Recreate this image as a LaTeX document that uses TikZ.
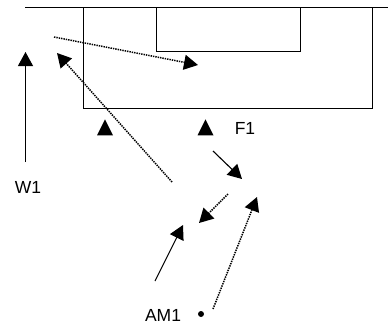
\documentclass[tikz,border=0pt]{standalone}
\usepackage{fontspec}
\setmainfont{Liberation Sans}
\usetikzlibrary{arrows.meta,shapes.geometric}
\begin{document}
\begin{tikzpicture}[x=1pt,y=-1pt,
  pitch/.style={line width=1pt},
  run/.style={line width=1.1pt,-{Triangle[length=14pt,width=15pt]}},
  pass/.style={line width=1.5pt,dash pattern=on 1.4pt off 1pt,-{Triangle[length=14pt,width=15pt]}},
  cone/.style={fill=black,isosceles triangle,isosceles triangle stretches,shape border rotate=90,inner sep=0pt,minimum height=16pt,minimum width=16pt},
  lbl/.style={font=\fontsize{17.5}{19}\selectfont,inner sep=0pt}]
\useasboundingbox (0,0) rectangle (388,325);
% pitch lines
\draw[pitch] (25,7) -- (388,7);
\draw[pitch] (83,7) rectangle (372,108);
\draw[pitch] (156,7) rectangle (300,51);
% cones
\node[cone] (c1) at (105,130.5) {};
\node[cone] (c2) at (205.5,130.5) {};
% labels
\node[lbl] (w1) at (28,187) {W1};
\node[lbl] (f1) at (245,128) {F1};
\node[lbl] (am1) at (163,315) {AM1};
\fill (201,314) circle (3pt);
% end points
\coordinate (w1s) at (25.5,162);
\coordinate (w1e) at (25.5,52);
\coordinate (p1s) at (54,37);
\coordinate (p1e) at (198,65);
\coordinate (p2s) at (172,182);
\coordinate (p2e) at (57,53);
\coordinate (f1s) at (213,151);
\coordinate (f1e) at (242,179);
\coordinate (p3s) at (228,194);
\coordinate (p3e) at (199,223);
\coordinate (p4s) at (213,309);
\coordinate (p4e) at (257,197);
\coordinate (a1s) at (155,281);
\coordinate (a1e) at (183,225);
% movements and passes
\draw[run] (w1s) -- (w1e);
\draw[pass] (p1s) -- (p1e);
\draw[pass] (p2s) -- (p2e);
\draw[run] (f1s) -- (f1e);
\draw[pass] (p3s) -- (p3e);
\draw[pass] (p4s) -- (p4e);
\draw[run] (a1s) -- (a1e);
\end{tikzpicture}
\end{document}
